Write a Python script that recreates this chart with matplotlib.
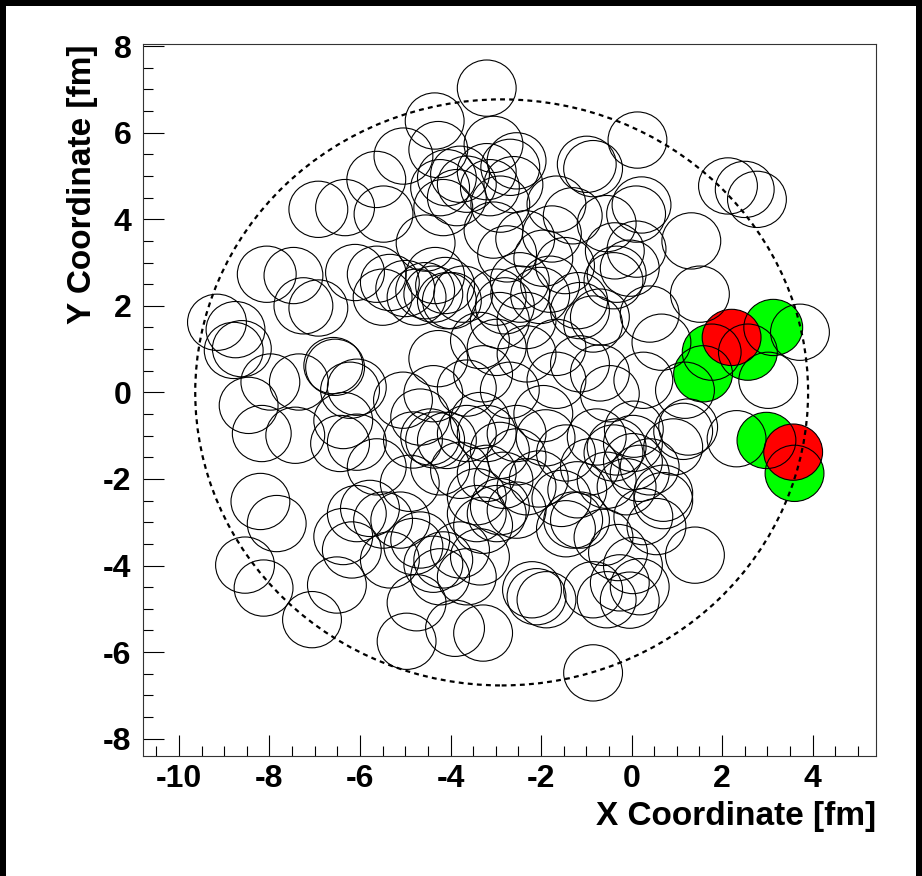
import matplotlib
matplotlib.use("Agg")
import matplotlib.pyplot as plt
from matplotlib.patches import Circle, Rectangle

plt.rcParams["font.family"] = ["Liberation Sans", "DejaVu Sans"]
plt.rcParams["font.weight"] = "bold"
plt.rcParams["axes.unicode_minus"] = False

# nucleon positions in the transverse plane [fm]
nucleon_x = [
    -3.20, -4.35, 0.13, -4.27, -3.05, -2.54, -2.68, -0.99, -0.85, -5.04,
    -5.64, -4.08, -3.79, -3.64, -4.23, -3.86, -4.16, -3.20, -3.13, 2.13,
    2.50, 2.77, -6.92, -6.33, -5.48, 0.22, 0.10, -1.66, -1.30, -1.76,
    -2.61, -2.90, 1.32, 0.11, -0.37, -0.04, -0.33, 1.51, -8.06, -7.47,
    -6.11, -5.63, -5.34, -7.25, -6.92, -9.16, -8.75, -8.79, -8.61, -7.98,
    -8.46, -8.17, -7.43, -7.35, -6.59, -6.55, -6.07, -6.22, -6.37, -6.44,
    -6.07, -5.63, -5.05, -4.83, -4.34, -4.27, -8.20, -7.84, -5.50, -5.00,
    -4.38, -4.08, -4.75, -3.72, -2.98, -2.46, -0.70, -0.85, -0.40, 0.66,
    -2.98, -3.35, -2.32, -1.66, -2.91, -2.32, -0.48, -1.95, -4.38, -3.35,
    -2.54, -0.77, -0.40, 0.03, -4.45, -4.08, -3.64, -3.20, -2.91, -2.54,
    -4.23, -3.79, -3.20, -2.83, -2.32, -3.42, -2.91, -2.54, -0.33, 0.03,
    -0.92, -0.55, -0.11, 0.18, -4.67, -1.14, -1.80, -1.14, -1.66, -0.70,
    -3.28, -2.69, -3.64, 3.72, 3.02, 0.40, 1.18, 1.25, 1.14, 2.32,
    0.92, 0.26, 0.40, 0.70, 0.05, -8.54, -8.13, -7.06, -6.51, -6.37,
    -6.18, -6.07, -5.34, -4.97, -4.75, -0.85, -2.10, -2.20, -1.88, -3.28,
    -3.90, -4.23, -3.64, -0.55, -0.85, -0.26, 0.03, -1.14, -1.29, -3.42,
    -2.98, -3.28, -4.82, -5.11, -4.38, 1.40, 0.55, 0.26, 0.18, -0.04,
    0.70, -5.78, -5.49, -4.16, -4.67, -3.79, -3.35, -0.62, -0.30, -1.45,
    -1.90, -1.45, -1.55, -2.05, -1.20, -4.90, -2.35, -1.95, -0.55, -3.05,
    -2.75, -4.55, -4.34, -4.12, -4.56, -3.97, -2.47, -2.02, -2.80, -1.47,
    -1.18,
]
nucleon_y = [
    7.03, 6.27, 5.83, 5.61, 5.73, 5.35, 5.20, 5.27, 5.17, 5.46,
    4.92, 4.96, 5.04, 4.81, 4.73, 4.50, 4.27, 5.10, 4.73, 4.77,
    4.69, 4.46, 4.23, 4.27, 4.12, 4.33, 4.12, 4.35, 4.08, 3.66,
    4.80, 4.35, 3.50, 3.31, 3.27, 2.87, 2.73, 2.27, 2.73, 2.70,
    2.77, 2.73, 2.54, 2.00, 1.95, 1.62, 1.45, 0.97, 1.01, 0.24,
    -0.30, -0.95, -0.99, 0.24, 0.62, 0.58, 0.12, 0.05, -0.65, -1.18,
    -1.15, -1.72, -0.18, -1.10, -1.10, 0.78, -2.52, -3.03, 2.20, 2.40,
    2.27, 2.12, 2.20, 2.27, 2.20, 2.27, 1.74, 1.58, 2.58, 1.16,
    1.04, 1.20, 0.89, 1.04, 1.66, 1.66, -0.03, -0.49, -0.03, -0.65,
    -0.95, -1.03, -1.40, -1.60, -1.03, -1.11, -0.95, -0.95, -1.34, -1.49,
    -1.72, -1.80, -1.87, -2.03, -2.18, -2.41, -2.64, -2.72, -1.26, -1.18,
    -1.72, -2.03, -2.18, -1.87, -0.57, 1.89, 2.50, 0.66, 0.28, 0.45,
    0.43, 0.05, 0.10, 1.39, 0.28, 1.81, 0.05, -0.80, -0.90, -1.07,
    -1.26, 0.28, -1.72, -2.33, -0.85, -3.99, -4.52, -5.25, -4.45, -3.33,
    -3.64, -2.80, -3.87, -5.75, -4.86, -6.48, -4.72, -4.56, -4.79, -5.56,
    -5.45, -4.26, -4.26, -4.79, -4.56, -4.40, -4.00, -2.95, -2.95, -2.80,
    -2.80, -3.07, -3.56, -2.95, -3.97, -3.76, -3.10, -2.87, -4.49, -4.80,
    -2.50, -2.68, -2.95, -3.87, -3.41, -3.64, -3.80, -3.35, -3.70, -3.15,
    -1.05, -1.40, -2.45, -2.00, -2.25, -2.10, 3.55, 3.10, 3.90, 3.75,
    3.20, 3.45, 2.70, 2.47, 2.35, 2.12, 2.58, 2.24, 2.00, 2.93,
    2.12,
]

# participants (green) and spectators hit by the trigger (red)
green_x = [3.13, 2.57, 1.77, 1.58, 2.98, 3.60]
green_y = [1.50, 0.93, 0.93, 0.43, -1.11, -1.87]
red_x = [2.21, 3.57]
red_y = [1.27, -1.38]

# nuclear radius outline
nucleus_x0, nucleus_y0, nucleus_r = -2.87, 0.0, 6.77

R_NUC = 0.65

fig = plt.figure(figsize=(9.22, 8.76), dpi=100)
fig.patches.append(Rectangle((0, 0), 1, 1, transform=fig.transFigure,
                             facecolor="black", zorder=-20))
fig.patches.append(Rectangle((6 / 922, 0), 910 / 922, 870 / 876,
                             transform=fig.transFigure,
                             facecolor="white", zorder=-19))

ax = fig.add_axes([0.1548, 0.137, 0.7953, 0.8128])
ax.set_xlim(-10.8, 5.4)
ax.set_ylim(-8.4, 8.05)

# coloured fills first, outlines of everything on top
for x, y in zip(green_x, green_y):
    ax.add_patch(Circle((x, y), R_NUC, facecolor="#00ff00", edgecolor="none", zorder=2))
for x, y in zip(red_x, red_y):
    ax.add_patch(Circle((x, y), R_NUC, facecolor="#ff0000", edgecolor="none", zorder=3))

all_x = nucleon_x + green_x + red_x
all_y = nucleon_y + green_y + red_y
for x, y in zip(all_x, all_y):
    ax.add_patch(Circle((x, y), R_NUC, facecolor="none", edgecolor="black",
                        linewidth=0.8, zorder=4))

ax.add_patch(Circle((nucleus_x0, nucleus_y0), nucleus_r, facecolor="none",
                    edgecolor="black", linewidth=1.6,
                    linestyle=(0, (2.2, 1.9)), zorder=5))

ax.set_xticks(range(-10, 5, 2))
ax.set_yticks(range(-8, 9, 2))
ax.set_xticks([v / 2 for v in range(-21, 11)], minor=True)
ax.set_yticks([v / 2 for v in range(-16, 17)], minor=True)
ax.tick_params(which="both", direction="in", top=False, right=False,
               width=0.8, labelsize=23)
ax.tick_params(which="major", length=15)
ax.tick_params(which="minor", length=7.5)
ax.tick_params(axis="x", pad=6)
ax.tick_params(axis="y", pad=8)
for lab in ax.get_xticklabels() + ax.get_yticklabels():
    lab.set_fontweight("bold")
for sp in ax.spines.values():
    sp.set_linewidth(0.8)
    sp.set_color("#333333")

fig.text(0.950, 0.058, "X Coordinate [fm]", ha="right", va="baseline",
         fontsize=24, fontweight="bold")
fig.text(0.09, 0.949, "Y Coordinate [fm]", ha="center", va="top",
         rotation=90, fontsize=24, fontweight="bold")

fig.savefig("out.png", dpi=100)
